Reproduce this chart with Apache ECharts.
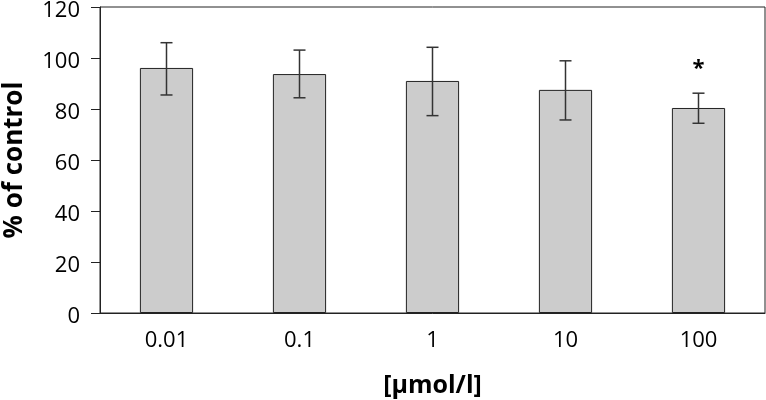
<!DOCTYPE html>
<html>
<head>
<meta charset="utf-8">
<script src="https://cdn.jsdelivr.net/npm/echarts@6/dist/echarts.min.js"></script>
<style>
  html, body { margin: 0; padding: 0; background: #fff; }
  #chart { width: 766px; height: 400px; }
</style>
</head>
<body>
<div id="chart"></div>
<script>
// data
var categories = ['0.01', '0.1', '1', '10', '100']
var means = [96.1, 93.7, 91.0, 87.5, 80.4]
var errLow = [85.5, 84.4, 77.4, 75.7, 74.4]
var errHigh = [106.0, 103.1, 104.2, 98.9, 86.2]
var marks = ['', '', '', '', '*']
var yTicks = [0, 20, 40, 60, 80, 100, 120]

var fontName = '"Open Sans", "DejaVu Sans", sans-serif'

var errData = categories.map(function (c, i) {
  return [i, errLow[i], errHigh[i], marks[i]]
})

var chart = echarts.init(document.getElementById('chart'))
chart.setOption({
  animation: false,
  grid: {
    left: 100,
    right: 1,
    top: 7,
    bottom: 87,
    outerBoundsMode: 'none',
    containLabel: false,
    show: true,
    borderColor: '#222',
    borderWidth: 1
  },
  xAxis: {
    type: 'category',
    data: categories,
    name: '[µmol/l]',
    nameLocation: 'middle',
    nameGap: 60,
    nameTextStyle: { fontFamily: fontName, fontSize: 25, fontWeight: 'bold', color: '#000' },
    axisLine: { lineStyle: { color: '#222', width: 1 } },
    axisTick: { show: false },
    axisLabel: { fontFamily: fontName, fontSize: 22, color: '#000', margin: 17 }
  },
  yAxis: {
    type: 'value',
    min: yTicks[0],
    max: yTicks[yTicks.length - 1],
    interval: 20,
    name: '% of control',
    nameLocation: 'middle',
    nameGap: 72,
    nameTextStyle: { fontFamily: fontName, fontSize: 26, fontWeight: 'bold', color: '#000' },
    axisLine: { show: true, lineStyle: { color: '#222', width: 1 } },
    axisTick: { show: true, length: 9, lineStyle: { color: '#222' } },
    splitLine: { show: false },
    axisLabel: {
      fontFamily: fontName,
      fontSize: 22,
      color: '#000',
      margin: 20,
      formatter: '{v|{value}}',
      rich: { v: { fontFamily: fontName, fontSize: 22, color: '#000', padding: [7, 0, 0, 0] } }
    }
  },
  series: [
    {
      type: 'bar',
      data: means,
      barWidth: '40%',
      itemStyle: { color: '#cccccc', borderColor: '#222', borderWidth: 1 }
    },
    {
      // error bars + significance mark
      type: 'custom',
      data: errData,
      z: 10,
      renderItem: function (params, api) {
        var x = api.value(0)
        var lo = api.coord([x, api.value(1)])
        var hi = api.coord([x, api.value(2)])
        var half = 6
        var style = { stroke: '#333', lineWidth: 1.5 }
        var children = [
          { type: 'line', shape: { x1: lo[0], y1: lo[1], x2: hi[0], y2: hi[1] }, style: style },
          { type: 'line', shape: { x1: hi[0] - half, y1: hi[1], x2: hi[0] + half, y2: hi[1] }, style: style },
          { type: 'line', shape: { x1: lo[0] - half, y1: lo[1], x2: lo[0] + half, y2: lo[1] }, style: style }
        ]
        var mark = api.value(3)
        if (mark) {
          children.push({
            type: 'text',
            style: {
              text: mark,
              x: hi[0],
              y: hi[1] - 24,
              align: 'center',
              verticalAlign: 'middle',
              fontFamily: fontName,
              fontSize: 22,
              fontWeight: 'bold',
              fill: '#000'
            }
          })
        }
        return { type: 'group', children: children }
      }
    }
  ]
})
</script>
</body>
</html>
